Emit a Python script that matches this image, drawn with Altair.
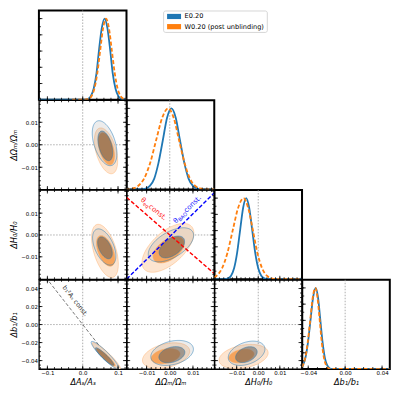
import numpy as np
import pandas as pd
import altair as alt

# ---------------- panel geometry ----------------
W, H = 87.8, 89.5
FONT = "DejaVu Sans"

# ---------------- axes ----------------
PARAMS = ["As", "Om", "H0", "b1"]
TITLE = {"As": "ΔAₛ/Aₛ", "Om": "ΔΩₘ/Ωₘ", "H0": "ΔH₀/H₀", "b1": "Δb₁/b₁"}
XDOM = {"As": [-0.124, 0.124], "Om": [-0.0186, 0.0192], "H0": [-0.0203, 0.0203], "b1": [-0.0465, 0.0484]}
YDOM = {"Om": [-0.0199, 0.0198], "H0": [-0.0203, 0.0206], "b1": [-0.0494, 0.0497], "pdf": [0.0, 1.1]}
XMAJOR = {"As": [-0.1, 0.0, 0.1], "Om": [-0.01, 0.0, 0.01], "H0": [-0.01, 0.0, 0.01], "b1": [-0.04, 0.0, 0.04]}
YMAJOR = {"Om": [-0.01, 0.0, 0.01], "H0": [-0.01, 0.0, 0.01], "b1": [-0.04, -0.02, 0.0, 0.02, 0.04],
          "pdf": [0.0, 0.2, 0.4, 0.6, 0.8, 1.0]}
XMINOR_STEP = {"As": 0.02, "Om": 0.002, "H0": 0.002, "b1": 0.01}
YMINOR_STEP = {"Om": 0.002, "H0": 0.002, "b1": 0.005, "pdf": 0.1}
XFMT = {"As": ".1f", "Om": ".2f", "H0": ".2f", "b1": ".2f"}

# ---------------- 1D marginals ----------------
AS_E_X = [-0.124, 0.0, 0.015, 0.023, 0.031, 0.039, 0.046, 0.054, 0.062, 0.070, 0.078, 0.085, 0.093, 0.101, 0.109, 0.124]
AS_E_Y = [0, 0, 0.011, 0.044, 0.135, 0.325, 0.607, 0.882, 1.0, 0.882, 0.607, 0.325, 0.135, 0.044, 0.011, 0]
AS_W_X = [-0.03, 0.0, 0.0165, 0.0248, 0.033, 0.0413, 0.0495, 0.0578, 0.066, 0.0743, 0.0825, 0.0908, 0.099, 0.1073, 0.1155, 0.124]
AS_W_Y = [0, 0, 0.011, 0.044, 0.135, 0.325, 0.607, 0.882, 1.0, 0.882, 0.607, 0.325, 0.135, 0.044, 0.011, 0.002]

OM_E_X = [-0.019, -0.0123, -0.0104, -0.0086, -0.0067, -0.0049, -0.003, -0.0012, 0.0007, 0.0026, 0.0044, 0.0063, 0.0081, 0.010, 0.0118, 0.0137, 0.0195]
OM_E_Y = [0, 0.002, 0.011, 0.044, 0.135, 0.325, 0.607, 0.882, 1.0, 0.882, 0.607, 0.325, 0.135, 0.044, 0.011, 0.002, 0]
OM_W_X = [-0.019, -0.0163, -0.0137, -0.0111, -0.0085, -0.0059, -0.0033, -0.0007, 0.0017, 0.004, 0.0064, 0.0087, 0.011, 0.0134, 0.0158, 0.0195]
OM_W_Y = [0.002, 0.011, 0.044, 0.135, 0.325, 0.607, 0.882, 1.0, 0.882, 0.607, 0.325, 0.135, 0.044, 0.011, 0.002, 0]

H0_E_X = [-0.0205, -0.0168, -0.0154, -0.014, -0.0126, -0.0112, -0.0098, -0.0084, -0.007, -0.0056, -0.0042, -0.0028, -0.0014, 0.0, 0.0014, 0.0028, 0.0042, 0.0205]
H0_E_Y = [0, 0, 0.002, 0.011, 0.044, 0.135, 0.325, 0.607, 0.882, 1.0, 0.882, 0.607, 0.325, 0.135, 0.044, 0.011, 0.002, 0]
H0_W_X = [-0.0205, -0.0193, -0.0168, -0.0143, -0.0118, -0.0093, -0.0068, -0.0047, -0.0025, -0.0004, 0.0018, 0.004, 0.0061, 0.0083, 0.0205]
H0_W_Y = [0.023, 0.044, 0.135, 0.325, 0.607, 0.882, 1.0, 0.882, 0.607, 0.325, 0.135, 0.044, 0.011, 0.002, 0]

B1_E_X = [-0.047, -0.0459, -0.0431, -0.0403, -0.0375, -0.0347, -0.0319, -0.0294, -0.0269, -0.0244, -0.0219, -0.0194, -0.0169, -0.0144, 0.048]
B1_E_Y = [0.026, 0.044, 0.135, 0.325, 0.607, 0.882, 1.0, 0.882, 0.607, 0.325, 0.135, 0.044, 0.011, 0.002, 0]
B1_W_X = [-0.047, -0.046, -0.0433, -0.0406, -0.0378, -0.0351, -0.0323, -0.030, -0.0276, -0.0253, -0.0229, -0.0206, -0.0182, -0.0159, 0.048]
B1_W_Y = [0.028, 0.044, 0.135, 0.325, 0.607, 0.882, 1.0, 0.882, 0.607, 0.325, 0.135, 0.044, 0.011, 0.002, 0]

CURVES = {
    "As": (AS_E_X, AS_E_Y, AS_W_X, AS_W_Y),
    "Om": (OM_E_X, OM_E_Y, OM_W_X, OM_W_Y),
    "H0": (H0_E_X, H0_E_Y, H0_W_X, H0_W_Y),
    "b1": (B1_E_X, B1_E_Y, B1_W_X, B1_W_Y),
}

# ---------------- 2D contours (centre, x/y half-extent, tilt) ----------------
ELL_PANEL = ["As-Om"] * 4 + ["As-H0"] * 4 + ["As-b1"] * 4 + ["Om-H0"] * 4 + ["Om-b1"] * 4 + ["H0-b1"] * 4
ELL_SET = ["E", "E", "W", "W"] * 6
ELL_LEVEL = [95, 68, 95, 68] * 6
ELL_CX = [0.062, 0.064, 0.066, 0.067,
          0.061, 0.063, 0.063, 0.065,
          0.063, 0.062, 0.067, 0.066,
          0.0005, 0.0009, -0.0008, -0.0005,
          0.001, 0.0009, -0.0016, -0.0018,
          -0.0054, -0.0055, -0.0068, -0.0078]
ELL_CY = [0.0007, -0.0005, -0.0027, -0.0018,
          -0.0055, -0.0059, -0.0073, -0.0073,
          -0.034, -0.0355, -0.035, -0.0365,
          -0.0045, -0.0055, -0.0059, -0.0068,
          -0.0315, -0.0335, -0.0346, -0.0351,
          -0.0319, -0.0334, -0.0355, -0.0349]
ELL_AX = [0.035, 0.021, 0.033, 0.023,
          0.033, 0.0207, 0.038, 0.026,
          0.039, 0.026, 0.040, 0.026,
          0.0098, 0.0055, 0.0112, 0.0067,
          0.0092, 0.0056, 0.0102, 0.0062,
          0.0085, 0.005, 0.0114, 0.0058]
ELL_AY = [0.0100, 0.0066, 0.0102, 0.0071,
          0.0083, 0.0050, 0.0122, 0.0070,
          0.0153, 0.0098, 0.0150, 0.0096,
          0.0078, 0.0050, 0.0112, 0.0060,
          0.0139, 0.0090, 0.0144, 0.0084,
          0.0135, 0.0088, 0.0135, 0.0076]
ELL_RHO = [-0.45, -0.45, -0.45, -0.45,
           -0.5, -0.5, -0.5, -0.5,
           -0.93, -0.93, -0.93, -0.93,
           0.55, 0.5, 0.6, 0.5,
           0.3, 0.3, 0.35, 0.3,
           0.35, 0.35, 0.3, 0.3]

# ---------------- reference lines and labels ----------------
RED_LINE_X = [-0.0186, 0.0192]
RED_LINE_Y = [0.0172, -0.0177]
BLUE_LINE_X = [-0.0186, 0.0192]
BLUE_LINE_Y = [-0.0202, 0.0193]
GRAY_LINE_X = [-0.124, 0.124]
GRAY_LINE_Y = [0.062, -0.062]

LEG_LABELS = ["E0.20", "W0.20 (post unblinding)"]
LEG_COLORS = ["#1f77b4", "#ff7f0e"]

MINUS = "replace(datum.label, '-', '\u2212')"
AXIS_STYLE = dict(ticks=False, domain=False, grid=False, labelFont=FONT, labelFontSize=5.5,
                  labelColor="black", labelPadding=1.5, labelFlush=False, labelOverlap=False,
                  titleFont=FONT, titleFontSize=8.2, titleFontWeight="normal", titleFontStyle="italic",
                  titleColor="black", titlePadding=2)


def xaxis(p):
    return alt.Axis(values=XMAJOR[p], format=XFMT[p], labelExpr=MINUS, title=TITLE[p], **AXIS_STYLE)


def yaxis(p):
    return alt.Axis(values=YMAJOR[p], format=".2f", labelExpr=MINUS, title=TITLE[p], **AXIS_STYLE)


def locator(dom, step):
    k0 = int(np.ceil(dom[0] / step - 1e-9))
    k1 = int(np.floor(dom[1] / step + 1e-9))
    return [round(k * step, 6) for k in range(k0, k1 + 1)]


def inside(vals, dom):
    return [v for v in vals if dom[0] + 1e-9 < v < dom[1] - 1e-9]


def make_enc(xp, yp, showx, showy):
    def X(f):
        return alt.X(f"{f}:Q", scale=alt.Scale(domain=XDOM[xp], nice=False, zero=False),
                     axis=xaxis(xp) if showx else None)

    def Y(f):
        return alt.Y(f"{f}:Q", scale=alt.Scale(domain=YDOM[yp], nice=False, zero=False),
                     axis=yaxis(yp) if showy else None)
    return X, Y


def tick_layers(X, Y, xp, yp, sides):
    out = []
    for side in sides:
        if side in ("bottom", "top"):
            sets = [(XMAJOR[xp], 3.5), (locator(XDOM[xp], XMINOR_STEP[xp]), 2.0)]
            for vals, L in sets:
                df = pd.DataFrame({"v": inside(vals, XDOM[xp])})
                y0, y1 = (H, H - L) if side == "bottom" else (0, L)
                out.append(alt.Chart(df).mark_rule(color="black", strokeWidth=0.8).encode(
                    x=X("v"), y=alt.value(y0), y2=alt.value(y1)))
        else:
            sets = [(YMAJOR[yp], 3.5), (locator(YDOM[yp], YMINOR_STEP[yp]), 2.0)]
            for vals, L in sets:
                df = pd.DataFrame({"v": inside(vals, YDOM[yp])})
                x0, x1 = (0, L) if side == "left" else (W, W - L)
                out.append(alt.Chart(df).mark_rule(color="black", strokeWidth=0.8).encode(
                    y=Y("v"), x=alt.value(x0), x2=alt.value(x1)))
    return out


def zero_lines(X, Y, horizontal):
    z = pd.DataFrame({"v": [0.0]})
    out = [alt.Chart(z).mark_rule(color="#999999", strokeWidth=0.8, strokeDash=[1.5, 1.5]).encode(x=X("v"))]
    if horizontal:
        out.append(alt.Chart(z).mark_rule(color="#999999", strokeWidth=0.8, strokeDash=[1.5, 1.5]).encode(y=Y("v")))
    return out


def ellipse_df(i):
    th = np.linspace(0, np.pi, 61)
    u, s = np.cos(th), np.sin(th)
    rho = ELL_RHO[i]
    q = np.sqrt(1 - rho ** 2)
    x = ELL_CX[i] + ELL_AX[i] * u
    yu = ELL_CY[i] + ELL_AY[i] * (rho * u + q * s)
    yl = ELL_CY[i] + ELL_AY[i] * (rho * u - q * s)
    return pd.DataFrame({"x": x, "y": yu, "y2": yl})


STYLE = {
    ("W", 95): dict(fill="#fde5d0", fillOpacity=1, stroke="#ff7f0e", strokeOpacity=0.3, strokeWidth=0.8),
    ("E", 95): dict(fill="#808080", fillOpacity=0.15, strokeWidth=0),
    ("W", 68): dict(fill="#f6a45c", fillOpacity=1, stroke="#f6a45c", strokeWidth=0.5),
    ("E", 68): dict(fill="#555555", fillOpacity=0.5, strokeWidth=0),
}


def panel2d(r, c):
    xp, yp = PARAMS[c], PARAMS[r]
    X, Y = make_enc(xp, yp, r == 3, c == 0)
    layers = zero_lines(X, Y, True)
    key = f"{xp}-{yp}"
    if key == "As-b1":
        df = pd.DataFrame({"x": GRAY_LINE_X, "y": GRAY_LINE_Y})
        layers.append(alt.Chart(df).mark_line(color="#777777", strokeWidth=1, strokeDash=[3.5, 2], clip=True)
                      .encode(x=X("x"), y=Y("y")))
    idx = [i for i in range(len(ELL_PANEL)) if ELL_PANEL[i] == key]
    for st, lv in [("W", 95), ("E", 95), ("W", 68), ("E", 68)]:
        for i in idx:
            if ELL_SET[i] == st and ELL_LEVEL[i] == lv:
                layers.append(alt.Chart(ellipse_df(i)).mark_area(clip=True, **STYLE[(st, lv)])
                              .encode(x=X("x"), y=Y("y"), y2=alt.Y2("y2")))
    for i in idx:
        if ELL_SET[i] == "E":
            layers.append(alt.Chart(ellipse_df(i)).mark_area(clip=True, fillOpacity=0, fill="white",
                                                             stroke="#1f77b4", strokeOpacity=0.55,
                                                             strokeWidth=0.9)
                          .encode(x=X("x"), y=Y("y"), y2=alt.Y2("y2")))
    if key == "Om-H0":
        for lx, ly, col in [(RED_LINE_X, RED_LINE_Y, "#ff0000"), (BLUE_LINE_X, BLUE_LINE_Y, "#0000ff")]:
            df = pd.DataFrame({"x": lx, "y": ly})
            layers.append(alt.Chart(df).mark_line(color=col, strokeWidth=1.4, strokeDash=[4, 2], clip=True)
                          .encode(x=X("x"), y=Y("y")))
        pieces = [(-0.0127, 0.0158, 40, "#ff2020", [("θ", 0, 0, 7), ("eq", 4.2, 1.7, 5), (" const.", 10.4, 0, 7)]),
                  (0.0027, 0.0052, 315, "#2020ff", [("θ", 0, 0, 7), ("BAO", 4.2, 1.7, 5), (" const.", 15.0, 0, 7)])]
        for px, py, ang, col, parts in pieces:
            df = pd.DataFrame({"x": [px], "y": [py]})
            for txt, dx, dy, fs in parts:
                layers.append(alt.Chart(df).mark_text(text=txt, angle=ang, align="left", baseline="alphabetic",
                                                      dx=dx, dy=dy, fontSize=fs, color=col, font=FONT)
                              .encode(x=X("x"), y=Y("y")))
    if key == "As-b1":
        df = pd.DataFrame({"x": [-0.058], "y": [0.041]})
        layers.append(alt.Chart(df).mark_text(text="b₁²Aₛ const.", angle=52, align="left", baseline="alphabetic",
                                              fontSize=6.4, color="#333333", font=FONT)
                      .encode(x=X("x"), y=Y("y")))
    layers += tick_layers(X, Y, xp, yp, ["bottom", "top", "left", "right"])
    return alt.layer(*layers).properties(width=W, height=H)


def panel1d(i):
    p = PARAMS[i]
    X, Y = make_enc(p, "pdf", i == 3, False)
    layers = zero_lines(X, Y, False)
    ex, ey, wx, wy = CURVES[p]
    layers.append(alt.Chart(pd.DataFrame({"x": ex, "d": ey}))
                  .mark_line(color="#1f77b4", strokeWidth=1.8, interpolate="monotone", clip=True)
                  .encode(x=X("x"), y=Y("d")))
    layers.append(alt.Chart(pd.DataFrame({"x": wx, "d": wy}))
                  .mark_line(color="#ff7f0e", strokeWidth=1.8, strokeDash=[4, 2.2], interpolate="monotone", clip=True)
                  .encode(x=X("x"), y=Y("d")))
    layers += tick_layers(X, Y, p, "pdf", ["bottom", "left"])
    return alt.layer(*layers).properties(width=W, height=H, view=alt.ViewBackground(strokeWidth=2))


def blank():
    return alt.Chart(pd.DataFrame({"a": [0]})).mark_point(opacity=0, size=1, clip=True).encode(
        x=alt.value(W / 2), y=alt.value(H / 2)).properties(width=W, height=H, view=alt.ViewBackground(stroke="transparent"))


def legend_cell():
    base = alt.Chart(pd.DataFrame({"a": [0]}))
    layers = [base.mark_rect(fill="white", stroke="#cccccc", strokeWidth=0.8, cornerRadius=2).encode(
        x=alt.value(37), x2=alt.value(141), y=alt.value(0.5), y2=alt.value(22))]
    for k, (lab, col) in enumerate(zip(LEG_LABELS, LEG_COLORS)):
        yc = 6 + 10.2 * k
        layers.append(base.mark_rect(fill=col).encode(
            x=alt.value(40.5), x2=alt.value(54.5), y=alt.value(yc - 2.6), y2=alt.value(yc + 2.6)))
        layers.append(base.mark_text(text=lab, align="left", baseline="middle", fontSize=6.6, font=FONT,
                                     color="black").encode(x=alt.value(58), y=alt.value(yc)))
    return alt.layer(*layers).properties(width=W, height=H, view=alt.ViewBackground(stroke="transparent"))


cells = []
for r in range(4):
    for c in range(4):
        if c > r:
            cells.append(legend_cell() if (r == 0 and c == 1) else blank())
        elif c == r:
            cells.append(panel1d(r))
        else:
            cells.append(panel2d(r, c))

chart = alt.concat(*cells, columns=4, spacing=0, bounds="flush").properties(
    padding={"left": 0, "top": 0, "right": 0, "bottom": 0}
).configure(font=FONT).configure_view(stroke="black", strokeWidth=1.3)

chart.save("out.html", embed_options={"renderer": "svg", "actions": False})
